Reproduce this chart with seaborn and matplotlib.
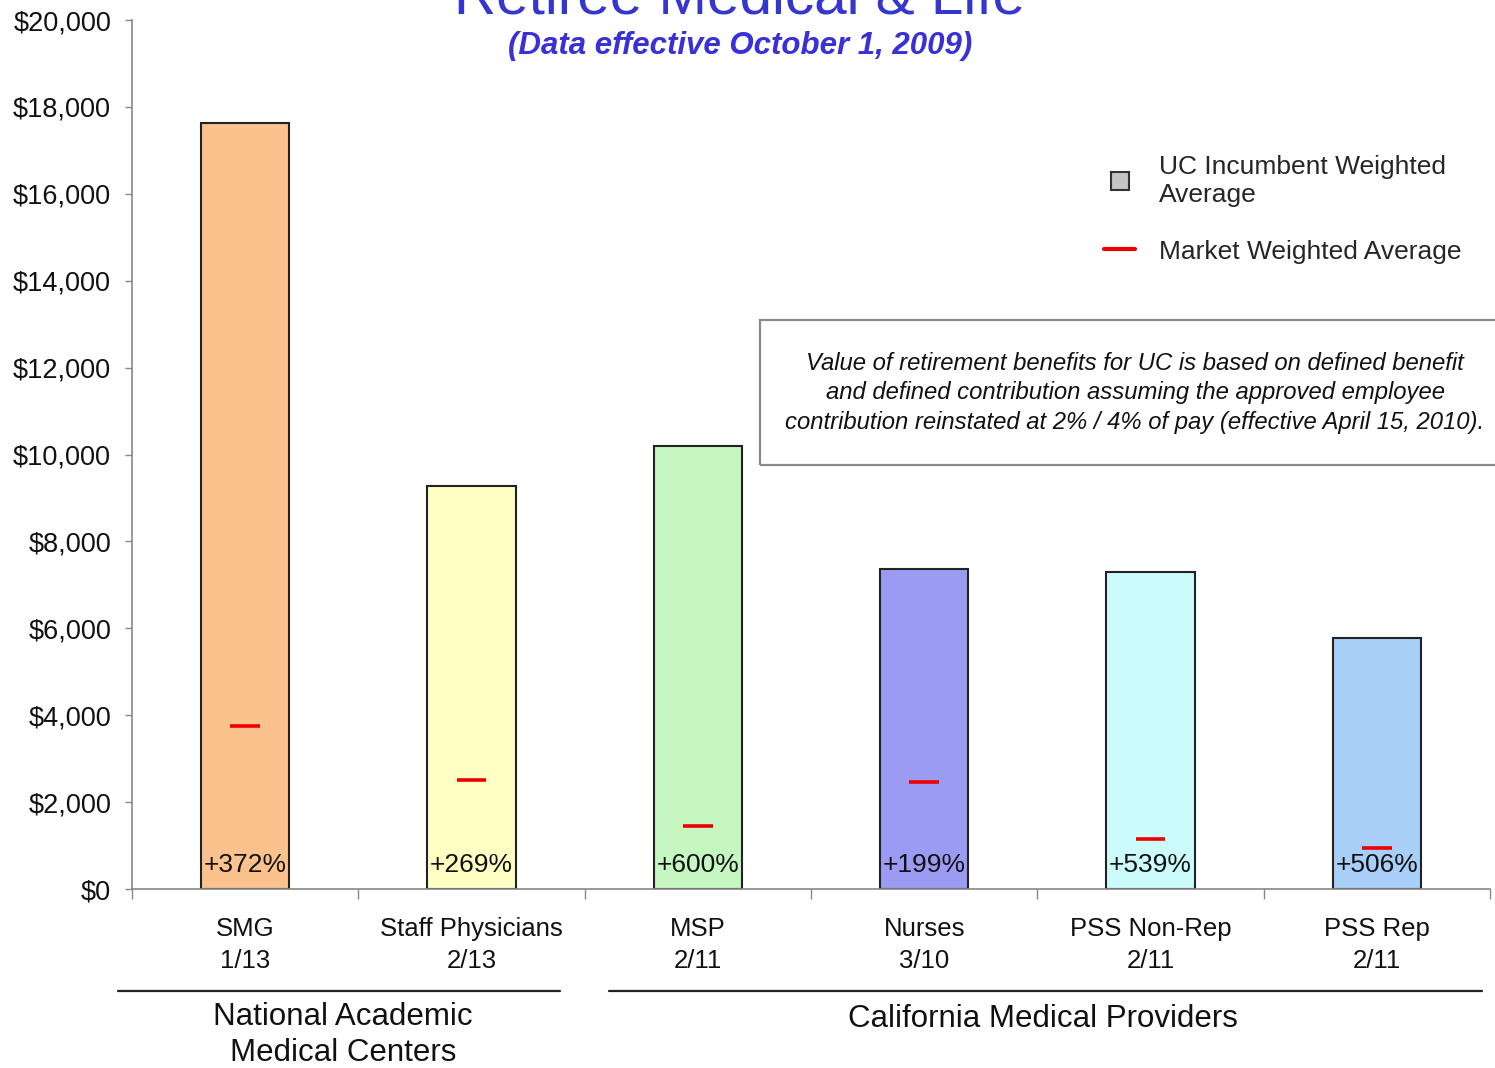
import numpy as np
import matplotlib
matplotlib.use("Agg")
import matplotlib.pyplot as plt
import seaborn as sns
from matplotlib.lines import Line2D
from matplotlib.patches import Rectangle
from matplotlib.ticker import StrMethodFormatter

categories = ["SMG", "Staff Physicians", "MSP", "Nurses", "PSS Non-Rep", "PSS Rep"]
ratios = ["1/13", "2/13", "2/11", "3/10", "2/11", "2/11"]
uc_values = [17630, 9275, 10195, 7360, 7300, 5780]
market_values = [3740, 2510, 1460, 2460, 1140, 955]
pct_labels = ["+372%", "+269%", "+600%", "+199%", "+539%", "+506%"]
bar_colors = ["#fbc28e", "#ffffc4", "#c6f7c0", "#9b9bf3", "#ccfbfb", "#a8cff8"]

sns.set_style("white")
plt.rcParams["font.family"] = ["Liberation Sans", "DejaVu Sans"]

fig = plt.figure(figsize=(14.95, 10.68), dpi=100)
ax = fig.add_axes([132 / 1495, 1 - 889 / 1068, (1490 - 132) / 1495, (889 - 20) / 1068])

x = np.arange(len(categories))
sns.barplot(x=x, y=uc_values, hue=x, palette=bar_colors, width=0.39,
            edgecolor="#222222", linewidth=1.5, legend=False, ax=ax, saturation=1)

# market weighted average markers
ax.hlines(market_values, x - 0.065, x + 0.065, color="#ee0000", lw=2.6, zorder=5)

for xi, lab in zip(x, pct_labels):
    ax.annotate(lab, (xi, 0), xytext=(0, 17), textcoords="offset points",
                ha="center", va="center", fontsize=19, color="#111111")

ax.set_xlim(-0.5, len(categories) - 0.5)
ax.set_ylim(0, 20000)
ax.set_yticks(np.arange(0, 20001, 2000))
ax.yaxis.set_major_formatter(StrMethodFormatter("${x:,.0f}"))
ax.set_xticks(x)
ax.set_xticklabels([f"{c}\n{r}" for c, r in zip(categories, ratios)], linespacing=1.43)
ax.set_xticks(np.arange(-0.5, len(categories)), minor=True)
ax.tick_params(axis="x", which="major", length=0, pad=20, labelsize=18.5, colors="#111111")
ax.tick_params(axis="x", which="minor", length=7, width=1, color="#888888", direction="out")
ax.tick_params(axis="y", length=5, width=1, color="#888888", direction="out",
               pad=10, labelsize=19.5, labelcolor="#111111")
ax.tick_params(axis="y", left=True)
ax.tick_params(axis="x", which="minor", bottom=True)
ax.set_xlabel("")
ax.set_ylabel("")
sns.despine(ax=ax, top=True, right=True)
for s in ("left", "bottom"):
    ax.spines[s].set_color("#888888")
    ax.spines[s].set_linewidth(1.2)

# titles
fig.text(740 / 1495, 1 - 13 / 1068, "Retiree Medical & Life", ha="center", va="baseline",
         fontsize=42, color="#3535d0")
fig.text(740 / 1495, 1 - 46 / 1068, "(Data effective October 1, 2009)", ha="center",
         va="center", fontsize=22.5, fontweight="bold", fontstyle="italic", color="#3a30d8")

# legend
handles = [
    Line2D([], [], marker="s", linestyle="none", markersize=13,
           markerfacecolor="#c4c4c4", markeredgecolor="#333333", markeredgewidth=1.5),
    Line2D([], [], color="#ee0000", lw=3),
]
fig.legend(handles, ["UC Incumbent Weighted\nAverage", "Market Weighted Average"],
           loc="upper left", bbox_to_anchor=(1080 / 1495, 1 - 131 / 1068),
           frameon=False, fontsize=19, handlelength=1.2, handletextpad=0.9,
           labelspacing=1.25)

# note box
fig.patches.append(Rectangle((760 / 1495, 1 - 465 / 1068), 760 / 1495, 145 / 1068,
                             transform=fig.transFigure, fill=False,
                             edgecolor="#8a8a8a", lw=1.6))
fig.text(1135 / 1495, 1 - 393 / 1068,
         "Value of retirement benefits for UC is based on defined benefit\n"
         "and defined contribution assuming the approved employee\n"
         "contribution reinstated at 2% / 4% of pay (effective April 15, 2010).",
         ha="center", va="center", fontsize=17.2, fontstyle="italic",
         color="#111111", linespacing=1.35)

# group brackets
y_line = 1 - 991 / 1068
fig.add_artist(Line2D([118 / 1495, 560 / 1495], [y_line, y_line], color="#222222", lw=1.6))
fig.add_artist(Line2D([609 / 1495, 1482 / 1495], [y_line, y_line], color="#222222", lw=1.6))
fig.text(343 / 1495, 1 - 1035 / 1068, "National Academic\nMedical Centers", ha="center",
         va="center", fontsize=22.5, color="#111111", linespacing=1.25)
fig.text(1043 / 1495, 1 - 1019 / 1068, "California Medical Providers", ha="center",
         va="center", fontsize=22.5, color="#111111")

fig.savefig("out.png", dpi=100)
